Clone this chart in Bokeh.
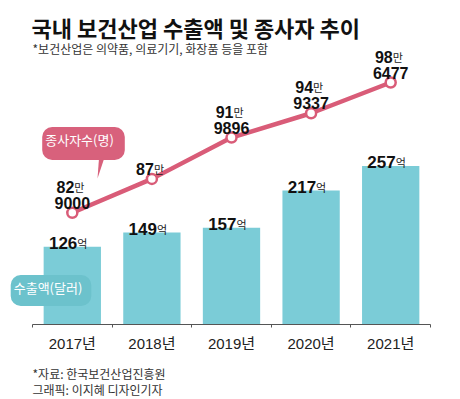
from bokeh.plotting import figure
from bokeh.models import ColumnDataSource, Range1d, FixedTicker, Label, PolyAnnotation
from bokeh.core.properties import value
from bokeh.embed import file_html
from bokeh.resources import INLINE

# ---------------- data ----------------
years = ["2017년", "2018년", "2019년", "2020년", "2021년"]
exports = [126, 149, 157, 217, 257]            # 수출액 (억 달러)
export_unit = "억"
workers = [829000, 870000, 919896, 949337, 986477]   # 종사자수 (명)
worker_unit = "만"

title = "국내 보건산업 수출액 및 종사자 추이"
subtitle = "*보건산업은 의약품, 의료기기, 화장품 등을 포함"
source_note = "*자료: 한국보건산업진흥원"
credit = "그래픽: 이지혜 디자인기자"
worker_tag = "종사자수(명)"
export_tag = "수출액(달러)"

# ---------------- style ----------------
TEAL = "#7BCCD7"
TEAL_TAG = "#6CC2CC"
PINK = "#D95C78"
PINK_TAG = "#D8617C"
NUM_FONT = "'Liberation Sans Narrow', 'Liberation Sans', 'Noto Sans CJK KR', sans-serif"
YEAR_FONT = "'Liberation Sans', 'Noto Sans CJK KR', sans-serif"
KR_FONT = "'Noto Sans CJK KR', sans-serif"

W, H = 460, 399
n = len(years)
idx = list(range(n))

# frame covers the whole canvas; the category band runs from x=32 to x=430 px
px_per_cat = 398 / n
x_lo = -0.5 - 32 / px_per_cat
x_hi = n - 0.5 + 30 / px_per_cat
# bars: baseline 324 px from top, 0.617 px per 억
s_bar = 0.617
y_lo = -(H - 324) / s_bar
y_hi = 324 / s_bar
# workers: 829000 sits 212.3 px from the top, 0.0008274 px per person
s_emp = 0.0008274
e_lo = 829000 - (H - 212.3) / s_emp
e_hi = 829000 + 212.3 / s_emp

p = figure(width=W, height=H, output_backend="svg", toolbar_location=None,
           x_range=Range1d(x_lo, x_hi), y_range=Range1d(y_lo, y_hi),
           y_axis_location=None, min_border=0)
p.extra_y_ranges = {"emp": Range1d(e_lo, e_hi)}
p.outline_line_color = None
p.xgrid.visible = False
p.ygrid.visible = False
p.background_fill_color = "white"
p.border_fill_color = "white"

# x axis drawn at y=0: labels at category centres, small ticks at boundaries
ax = p.xaxis[0]
ax.fixed_location = 0
ax.bounds = (-0.5, n - 0.5)
ax.ticker = FixedTicker(ticks=idx, minor_ticks=[i - 0.5 for i in range(n + 1)])
ax.major_label_overrides = {i: years[i] for i in idx}
ax.major_tick_in = 0
ax.major_tick_out = 0
ax.minor_tick_in = 0
ax.minor_tick_out = 3
ax.minor_tick_line_color = "#555555"
ax.axis_line_color = "#555555"
ax.axis_line_width = 1
ax.major_label_standoff = 7
ax.major_label_text_font = YEAR_FONT
ax.major_label_text_font_size = "15px"
ax.major_label_text_color = "#222222"

# bars
bar_src = ColumnDataSource(dict(x=idx, top=exports,
                                num=[str(v) for v in exports],
                                unit=[export_unit] * n))
p.vbar(x="x", top="top", width=0.72, source=bar_src, fill_color=TEAL, line_color=None)
p.text(x="x", y="top", text="num", source=bar_src, text_align="right",
       text_baseline="alphabetic", x_offset=5, y_offset=-4,
       text_font=value(NUM_FONT), text_font_size="17px", text_font_style="bold",
       text_color="#111111")
p.text(x="x", y="top", text="unit", source=bar_src, text_align="left",
       text_baseline="alphabetic", x_offset=5, y_offset=-4,
       text_font=value(KR_FONT), text_font_size="11px", text_color="#222222")

# line
man = [v // 10000 for v in workers]
rest = [v % 10000 for v in workers]
line_src = ColumnDataSource(dict(x=idx, y=workers))
p.line(x="x", y="y", source=line_src, y_range_name="emp", line_color=PINK, line_width=4.5)
p.scatter(x="x", y="y", source=line_src, y_range_name="emp", size=10,
          fill_color="white", line_color=PINK, line_width=2.5)

top_src = ColumnDataSource(dict(x=idx, y=workers, num=[str(m) for m in man],
                                unit=[worker_unit] * n,
                                off=[-26 if r else -10 for r in rest]))
p.text(x="x", y="y", text="num", source=top_src, y_range_name="emp",
       text_align="right", text_baseline="alphabetic", x_offset=2, y_offset="off",
       text_font=value(NUM_FONT), text_font_size="16px", text_font_style="bold",
       text_color="#111111")
p.text(x="x", y="y", text="unit", source=top_src, y_range_name="emp",
       text_align="left", text_baseline="alphabetic", x_offset=2, y_offset="off",
       text_font=value(KR_FONT), text_font_size="11px", text_color="#222222")

low_x = [i for i, r in zip(idx, rest) if r]
low_y = [w for w, r in zip(workers, rest) if r]
low_t = [str(r) for r in rest if r]
low_src = ColumnDataSource(dict(x=low_x, y=low_y, t=low_t))
p.text(x="x", y="y", text="t", source=low_src, y_range_name="emp",
       text_align="center", text_baseline="alphabetic", y_offset=-10,
       text_font=value(NUM_FONT), text_font_size="16px", text_font_style="bold",
       text_color="#111111")

# ---------------- annotations (screen px from bottom-left of canvas) ----------------
def text_label(txt, x, y, size, color="#333333", bold=False):
    return Label(x=x, y=y, x_units="screen", y_units="screen", text=txt,
                 text_font=KR_FONT, text_font_size=size,
                 text_font_style="bold" if bold else "normal",
                 text_color=color, text_baseline="alphabetic")

p.add_layout(text_label(title, 31, H - 26, "22px", "#111111", bold=True))
p.add_layout(text_label(subtitle, 32, H - 48, "12px"))
p.add_layout(text_label(source_note, 32, H - 373, "12px"))
p.add_layout(text_label(credit, 32, H - 389, "12px"))

# pink call-out (종사자수)
p.add_layout(PolyAnnotation(xs=[99, 106, 97], ys=[H - 151, H - 151, H - 178],
                            xs_units="screen", ys_units="screen",
                            fill_color=PINK_TAG, fill_alpha=1, line_color=None))
p.add_layout(Label(x=83, y=H - 143, x_units="screen", y_units="screen", text=worker_tag,
                   text_font=KR_FONT, text_font_size="13px", text_color="white",
                   text_align="center", text_baseline="middle",
                   background_fill_color=PINK_TAG, background_fill_alpha=1,
                   border_radius=10, padding=(3, 11, 3, 11)))

# teal call-out (수출액), with a soft shadow
p.add_layout(Label(x=52.5, y=H - 292, x_units="screen", y_units="screen", text=export_tag,
                   text_font=KR_FONT, text_font_size="13px", text_color="white",
                   text_alpha=0, text_align="center", text_baseline="middle",
                   background_fill_color="#000000", background_fill_alpha=0.18,
                   border_radius=10, padding=(3, 9, 3, 9)))
p.add_layout(Label(x=50.5, y=H - 290, x_units="screen", y_units="screen", text=export_tag,
                   text_font=KR_FONT, text_font_size="13px", text_color="white",
                   text_align="center", text_baseline="middle",
                   background_fill_color=TEAL_TAG, background_fill_alpha=1,
                   border_radius=10, padding=(3, 9, 3, 9)))

open("out.html", "w").write(file_html(p, INLINE))
